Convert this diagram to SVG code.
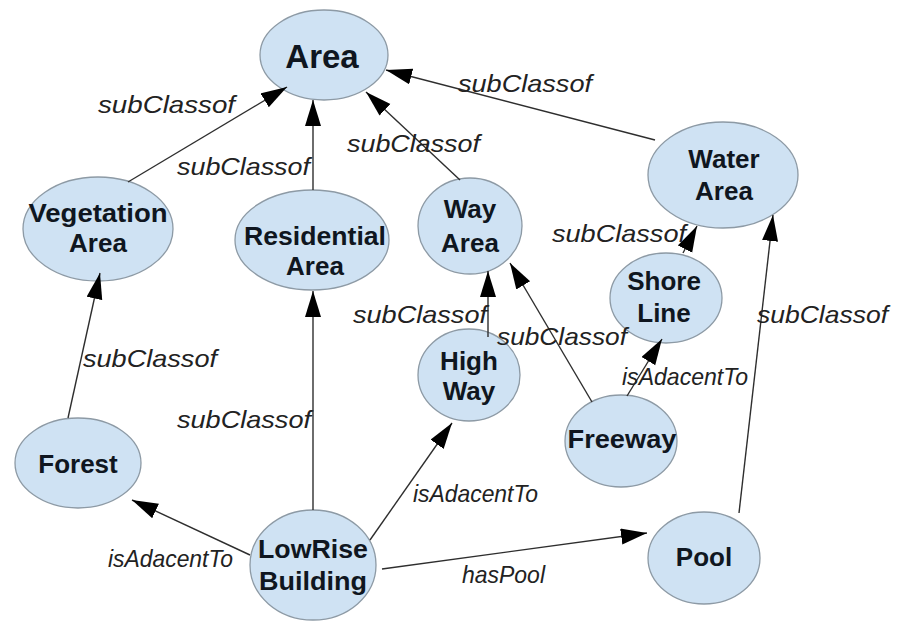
<svg xmlns="http://www.w3.org/2000/svg" width="899" height="621" viewBox="0 0 899 621">
<defs>
<style>
.node ellipse{fill:#cfe2f3;stroke:#8d9aa5;stroke-width:1.3}
.node text{font-family:"Liberation Sans",Arial,sans-serif;font-weight:bold;font-size:26px;fill:#0f1620;text-anchor:middle}
.edges line{stroke:#2e2e2e;stroke-width:1.4;marker-end:url(#arr)}
.edges text{font-family:"Liberation Sans",Arial,sans-serif;font-style:italic;font-size:24px;fill:#222}
</style>
<marker id="arr" markerUnits="userSpaceOnUse" markerWidth="28" markerHeight="18" refX="26" refY="8" orient="auto">
<path d="M0,0 L26,8 L0,16 z" fill="#000"/>
</marker>
</defs>
<rect width="899" height="621" fill="#fff"/>
<g id="n-area" class="node"><ellipse cx="324" cy="55" rx="64" ry="45"/><text x="322" y="68" style="font-size:33px">Area</text></g>
<g id="n-vegetation" class="node"><ellipse cx="98" cy="229" rx="75" ry="52"/><text x="98" y="222" textLength="139" lengthAdjust="spacingAndGlyphs">Vegetation</text><text x="98" y="252">Area</text></g>
<g id="n-residential" class="node"><ellipse cx="312" cy="240" rx="77" ry="50"/><text x="315" y="245" textLength="142" lengthAdjust="spacingAndGlyphs">Residential</text><text x="315" y="275">Area</text></g>
<g id="n-way" class="node"><ellipse cx="470" cy="226" rx="52" ry="48"/><text x="470" y="218">Way</text><text x="470" y="252">Area</text></g>
<g id="n-water" class="node"><ellipse cx="723" cy="175" rx="75" ry="53"/><text x="724" y="168">Water</text><text x="724" y="200">Area</text></g>
<g id="n-shore" class="node"><ellipse cx="666" cy="298" rx="56" ry="45"/><text x="664" y="290">Shore</text><text x="664" y="322">Line</text></g>
<g id="n-highway" class="node"><ellipse cx="469" cy="375" rx="51" ry="46"/><text x="469" y="370">High</text><text x="469" y="400">Way</text></g>
<g id="n-freeway" class="node"><ellipse cx="621" cy="441" rx="56" ry="46"/><text x="622" y="448" textLength="109" lengthAdjust="spacingAndGlyphs">Freeway</text></g>
<g id="n-forest" class="node"><ellipse cx="78" cy="463" rx="63" ry="45"/><text x="78" y="473">Forest</text></g>
<g id="n-lowrise" class="node"><ellipse cx="313" cy="565" rx="63" ry="55"/><text x="313" y="558" textLength="110" lengthAdjust="spacingAndGlyphs">LowRise</text><text x="313" y="590" textLength="108" lengthAdjust="spacingAndGlyphs">Building</text></g>
<g id="n-pool" class="node"><ellipse cx="704" cy="558" rx="56" ry="46"/><text x="704" y="566">Pool</text></g>
<g id="connectors" class="edges">
<line x1="128" y1="182" x2="287" y2="87"/>
<line x1="313" y1="190" x2="313" y2="100"/>
<line x1="460" y1="180" x2="366" y2="92"/>
<line x1="655" y1="140" x2="386" y2="70"/>
<line x1="683" y1="253" x2="697" y2="226"/>
<line x1="488" y1="337" x2="488" y2="271"/>
<line x1="592" y1="402" x2="510" y2="263"/>
<line x1="627" y1="396" x2="662" y2="339"/>
<line x1="739" y1="513" x2="773" y2="215"/>
<line x1="68" y1="418" x2="100" y2="273"/>
<line x1="313" y1="510" x2="313" y2="291"/>
<line x1="370" y1="540" x2="452" y2="423"/>
<line x1="250" y1="555" x2="132" y2="500"/>
<line x1="382" y1="569" x2="647" y2="533"/>
<text x="98" y="113" textLength="137" lengthAdjust="spacingAndGlyphs">subClassof</text>
<text x="177" y="175" textLength="133" lengthAdjust="spacingAndGlyphs">subClassof</text>
<text x="347" y="152" textLength="133" lengthAdjust="spacingAndGlyphs">subClassof</text>
<text x="458" y="92" textLength="134" lengthAdjust="spacingAndGlyphs">subClassof</text>
<text x="552" y="242" textLength="134" lengthAdjust="spacingAndGlyphs">subClassof</text>
<text x="353" y="323" textLength="134" lengthAdjust="spacingAndGlyphs">subClassof</text>
<text x="497" y="345" textLength="130" lengthAdjust="spacingAndGlyphs">subClassof</text>
<text x="622" y="385" textLength="126" lengthAdjust="spacingAndGlyphs">isAdacentTo</text>
<text x="757" y="323" textLength="131" lengthAdjust="spacingAndGlyphs">subClassof</text>
<text x="83" y="367" textLength="134" lengthAdjust="spacingAndGlyphs">subClassof</text>
<text x="177" y="428" textLength="134" lengthAdjust="spacingAndGlyphs">subClassof</text>
<text x="413" y="502" textLength="125" lengthAdjust="spacingAndGlyphs">isAdacentTo</text>
<text x="108" y="567" textLength="125" lengthAdjust="spacingAndGlyphs">isAdacentTo</text>
<text x="462" y="583" textLength="83" lengthAdjust="spacingAndGlyphs">hasPool</text>
</g>
</svg>
